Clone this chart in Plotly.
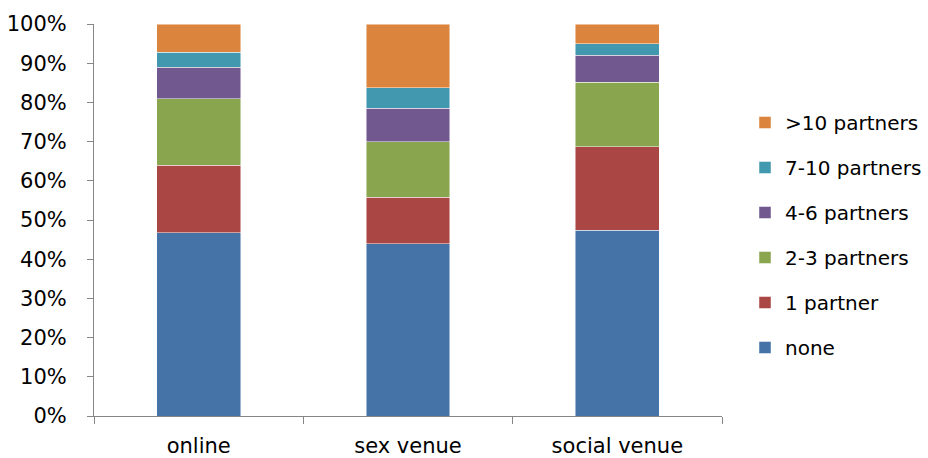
import plotly.graph_objects as go

categories = ["online", "sex venue", "social venue"]
series_names = ["none", "1 partner", "2-3 partners", "4-6 partners", "7-10 partners", ">10 partners"]
none_vals = [46.8, 44.0, 47.4]
one_vals = [17.2, 11.8, 21.3]
two_three_vals = [16.9, 14.1, 16.5]
four_six_vals = [8.1, 8.6, 6.8]
seven_ten_vals = [3.8, 5.3, 2.9]
over_ten_vals = [7.2, 16.2, 5.1]
y_tick_vals = [0, 10, 20, 30, 40, 50, 60, 70, 80, 90, 100]
y_tick_text = [f"{v}%" for v in y_tick_vals]

series_values = [none_vals, one_vals, two_three_vals, four_six_vals, seven_ten_vals, over_ten_vals]
colors = ["#4572A7", "#AA4643", "#89A54E", "#71588F", "#4198AF", "#DB843D"]

fig = go.Figure()
for i, (name, vals) in enumerate(zip(series_names, series_values)):
    fig.add_trace(go.Bar(
        x=categories, y=vals, name=name, legendgroup=f"g{i}", legendrank=1000 - i,
        marker=dict(color=colors[i], line=dict(color="rgba(255,255,255,0.6)", width=0.8)),
    ))

font_family = "DejaVu Sans"
fig.update_layout(
    width=928, height=458,
    margin=dict(l=94, r=206, t=24, b=42, autoexpand=False),
    barmode="stack", bargap=0.6,
    plot_bgcolor="white", paper_bgcolor="white",
    font=dict(family=font_family, size=20, color="black"),
    showlegend=True,
    legend=dict(
        xref="container", yref="container",
        x=745/928, xanchor="left", y=1 - 103/458, yanchor="top",
        traceorder="grouped", tracegroupgap=16, maxheight=440,
        font=dict(family=font_family, size=20, color="black"),
        itemclick=False,
    ),
)
fig.update_xaxes(
    showline=True, linecolor="#868686", linewidth=1,
    ticks="outside", ticklen=7, tickcolor="#868686", tickson="boundaries",
    ticklabelstandoff=11, tickfont=dict(size=21),
    showgrid=False, zeroline=False, automargin=False,
)
fig.update_yaxes(
    range=[0, 100], tickmode="array", tickvals=y_tick_vals, ticktext=y_tick_text,
    showline=True, linecolor="#868686", linewidth=1,
    ticks="outside", ticklen=6, tickcolor="#868686",
    ticklabelstandoff=16, tickfont=dict(size=21),
    showgrid=False, zeroline=False, automargin=False,
)

fig.write_html("out.html", config={"displayModeBar": False},
               post_script="document.body.style.margin='0';")
